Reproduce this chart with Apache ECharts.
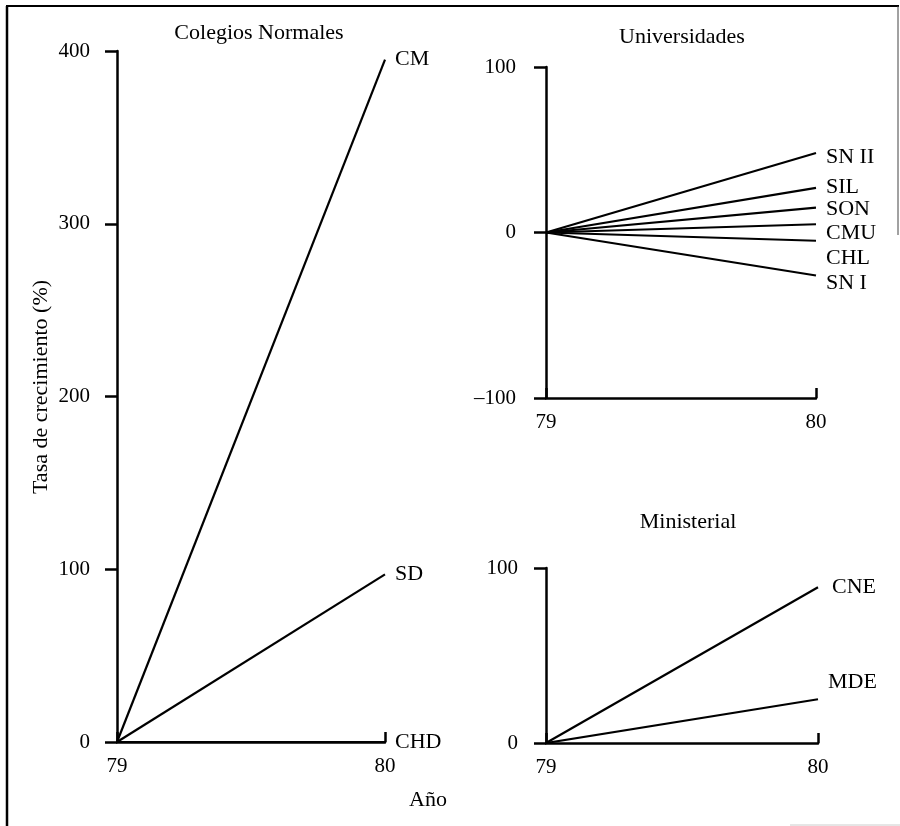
<!DOCTYPE html>
<html>
<head>
<meta charset="utf-8">
<script src="https://cdn.jsdelivr.net/npm/echarts@6/dist/echarts.min.js"></script>
<style>
  html, body { margin: 0; padding: 0; background: #fff; }
  #chart { width: 900px; height: 826px; }
</style>
</head>
<body>
<div id="chart"></div>
<script>
// años (eje x) en los tres paneles
var years = [79, 80];

// Colegios Normales
var colegiosNames = ['CM', 'SD', 'CHD'];
var colegiosValues = [[0, 395], [0, 97], [0, 0]];
var colegiosTicks = [0, 100, 200, 300, 400];

// Universidades
var univNames = ['SN II', 'SIL', 'SON', 'CMU', 'CHL', 'SN I'];
var univValues = [[0, 48], [0, 27], [0, 15], [0, 5], [0, -5], [0, -26]];
var univTicks = [-100, 0, 100];

// Ministerial
var minNames = ['CNE', 'MDE'];
var minValues = [[0, 89], [0, 25]];
var minTicks = [0, 100];

var FONT = "'Liberation Serif', 'DejaVu Serif', serif";
var FS = 21;
var FS_T = 22;

// desplazamiento de las etiquetas finales (solo estilo)
var labelOffsets = {
    'CM': [0, 0], 'SD': [0, 0], 'CHD': [0, 0],
    'SN II': [0, 4], 'SIL': [0, -1], 'SON': [0, 2], 'CMU': [0, 9], 'CHL': [0, 17], 'SN I': [0, 8],
    'CNE': [4, 0], 'MDE': [0, -17]
};

var dom = document.getElementById('chart');
var myChart = echarts.init(dom);

function buildSeries(names, values, idx) {
    return names.map(function (n, i) {
        return {
            name: n,
            type: 'line',
            xAxisIndex: idx,
            yAxisIndex: idx,
            symbol: 'none',
            data: years.map(function (y, j) { return [y, values[i][j]]; }),
            lineStyle: { color: '#000', width: 2.2 },
            endLabel: {
                show: true,
                formatter: '{a}',
                distance: 10,
                offset: labelOffsets[n],
                color: '#000',
                fontFamily: FONT,
                fontSize: FS_T
            },
            z: 3
        };
    });
}

function xAx(idx) {
    return {
        type: 'value', gridIndex: idx, min: years[0], max: years[1], interval: 1,
        axisLine: { onZero: false, lineStyle: { color: '#000', width: 2.5 } },
        axisTick: { inside: true, length: 10, lineStyle: { color: '#000', width: 2.5 } },
        axisLabel: { color: '#000', fontFamily: FONT, fontSize: FS, margin: 14 },
        splitLine: { show: false }
    };
}

function yAx(idx, ticks, margin) {
    return {
        type: 'value', gridIndex: idx,
        min: ticks[0], max: ticks[ticks.length - 1], interval: ticks[1] - ticks[0],
        axisLine: { show: true, onZero: false, lineStyle: { color: '#000', width: 2.5 } },
        axisTick: { show: true, length: 12, lineStyle: { color: '#000', width: 2.5 } },
        axisLabel: {
            color: '#000', fontFamily: FONT, fontSize: FS, margin: margin,
            formatter: function (v) { return v < 0 ? '\u2013' + Math.abs(v) : v; }
        },
        splitLine: { show: false }
    };
}

function txt(s, x, y, rot) {
    return {
        type: 'text', x: x, y: y, rotation: rot || 0,
        style: { text: s, fill: '#000', font: FS_T + 'px ' + FONT, textAlign: 'center', textVerticalAlign: 'middle' }
    };
}

myChart.setOption({
    animation: false,
    backgroundColor: '#fff',
    grid: [
        { left: 117, top: 51, width: 268, height: 691 },
        { left: 546, top: 67, width: 270, height: 331 },
        { left: 546, top: 568, width: 272, height: 175 }
    ],
    xAxis: [xAx(0), xAx(1), xAx(2)],
    yAxis: [yAx(0, colegiosTicks, 27), yAx(1, univTicks, 30), yAx(2, minTicks, 28)],
    graphic: [
        txt('Colegios Normales', 259, 33),
        txt('Universidades', 682, 37),
        txt('Ministerial', 688, 522),
        txt('Año', 428, 800),
        txt('Tasa de crecimiento (%)', 41, 387, Math.PI / 2),
        // marco del escaneo
        { type: 'line', shape: { x1: 7, y1: 6, x2: 7, y2: 826 }, style: { stroke: '#000', lineWidth: 2.5 } },
        { type: 'line', shape: { x1: 6, y1: 6, x2: 899, y2: 6 }, style: { stroke: '#000', lineWidth: 2 } },
        { type: 'line', shape: { x1: 898, y1: 6, x2: 898, y2: 235 }, style: { stroke: '#444', lineWidth: 1 } },
        { type: 'line', shape: { x1: 790, y1: 825, x2: 900, y2: 825 }, style: { stroke: '#ccc', lineWidth: 1 } }
    ],
    series: [].concat(
        buildSeries(colegiosNames, colegiosValues, 0),
        buildSeries(univNames, univValues, 1),
        buildSeries(minNames, minValues, 2)
    )
});

window.addEventListener('resize', function () {
    myChart.resize();
});
</script>
</body>
</html>
